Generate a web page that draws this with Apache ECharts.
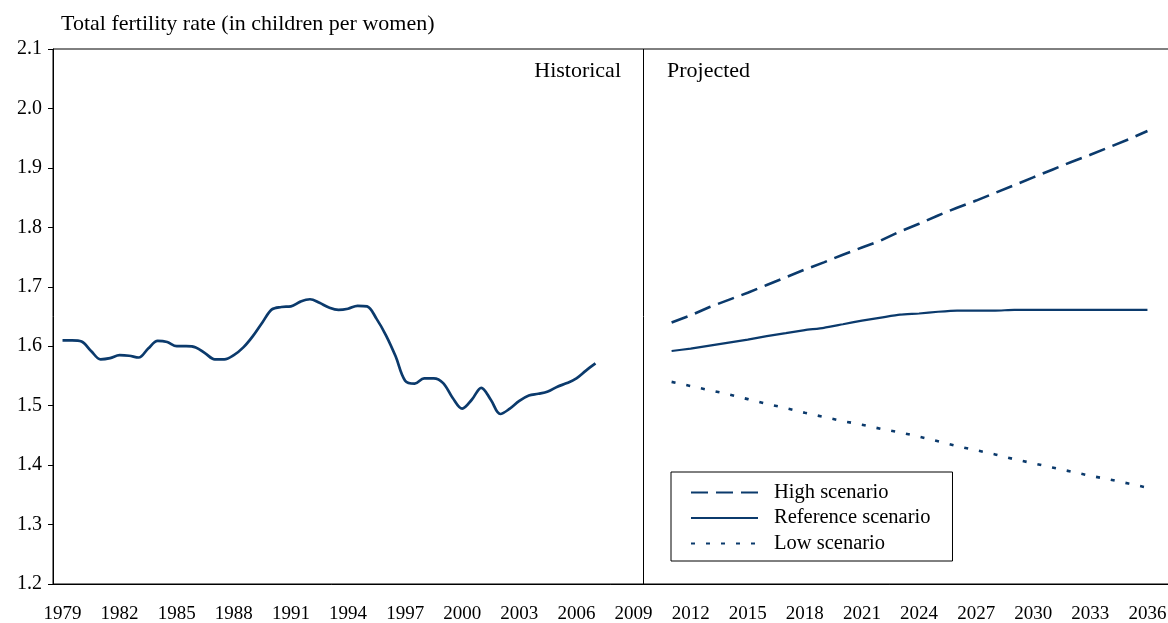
<!DOCTYPE html>
<html>
<head>
<meta charset="utf-8">
<script src="https://cdn.jsdelivr.net/npm/echarts@6/dist/echarts.min.js"></script>
<style>
  html, body { margin: 0; padding: 0; background: #fff; }
  #chart { width: 1168px; height: 623px; }
</style>
</head>
<body>
<div id="chart"></div>
<script>
// axis categories (tick labels every 3 years)
const years = ['1979','1980','1981','1982','1983','1984','1985','1986','1987','1988','1989','1990','1991','1992','1993','1994','1995','1996','1997','1998','1999','2000','2001','2002','2003','2004','2005','2006','2007','2008','2009','2010','2011','2012','2013','2014','2015','2016','2017','2018','2019','2020','2021','2022','2023','2024','2025','2026','2027','2028','2029','2030','2031','2032','2033','2034','2035','2036','2037']

// historical, half-yearly
const histYears = [1979,1979.5,1980,1980.5,1981,1981.5,1982,1982.5,1983,1983.5,1984,1984.5,1985,1985.5,1986,1986.5,1987,1987.5,1988,1988.5,1989,1989.5,1990,1990.5,1991,1991.5,1992,1992.5,1993,1993.5,1994,1994.5,1995,1995.5,1996,1996.5,1997,1997.5,1998,1998.5,1999,1999.5,2000,2000.5,2001,2001.5,2002,2002.5,2003,2003.5,2004,2004.5,2005,2005.5,2006,2006.5,2007]
const histValues = [1.610,1.610,1.608,1.592,1.578,1.580,1.585,1.584,1.581,1.596,1.609,1.607,1.600,1.600,1.598,1.588,1.578,1.578,1.585,1.598,1.617,1.640,1.662,1.666,1.667,1.675,1.679,1.673,1.665,1.661,1.663,1.668,1.667,1.646,1.618,1.583,1.542,1.537,1.546,1.546,1.538,1.513,1.495,1.510,1.530,1.510,1.486,1.495,1.508,1.517,1.520,1.524,1.532,1.538,1.546,1.559,1.571]

// projections
const projYears = [2011,2012,2013,2014,2015,2016,2017,2018,2019,2020,2021,2022,2023,2024,2025,2026,2027,2028,2029,2030,2031,2032,2033,2034,2035,2036]
const highValues = [1.640,1.652,1.666,1.678,1.690,1.703,1.716,1.729,1.741,1.754,1.766,1.778,1.793,1.806,1.820,1.833,1.845,1.858,1.871,1.884,1.897,1.910,1.922,1.935,1.948,1.962]
const refValues = [1.592,1.596,1.601,1.606,1.611,1.617,1.622,1.627,1.631,1.637,1.643,1.648,1.653,1.655,1.658,1.660,1.660,1.660,1.661,1.661,1.661,1.661,1.661,1.661,1.661,1.661]
const lowValues = [1.540,1.533,1.526,1.519,1.511,1.503,1.496,1.488,1.481,1.474,1.468,1.461,1.455,1.448,1.440,1.432,1.425,1.418,1.410,1.403,1.396,1.389,1.382,1.376,1.369,1.362]

const navy = '#0b3a6c'
const font = '"Liberation Serif", "DejaVu Serif", serif'
const pairs = (xs, ys) => xs.map((x, i) => [x, ys[i]])

let chart = echarts.init(document.getElementById('chart'))

let option = {
    animation: false,
    backgroundColor: '#fff',
    textStyle: { fontFamily: font },
    title: {
        text: 'Total fertility rate (in children per women)',
        left: 56,
        top: 8,
        textStyle: { fontFamily: font, fontSize: 22, fontWeight: 'normal', color: '#000' }
    },
    // plot runs past the right edge of the picture (cropped like the original)
    grid: {
        left: 53,
        top: 49,
        bottom: 39,
        width: 1123,
        outerBoundsMode: 'none',
        show: true,
        borderColor: '#000',
        borderWidth: 1
    },
    legend: {
        orient: 'vertical',
        left: 671,
        top: 472,
        padding: [10, 22, 7, 19],
        itemWidth: 67,
        itemHeight: 20,
        itemGap: 4.5,
        borderColor: '#000',
        borderWidth: 1,
        backgroundColor: '#fff',
        // hide the default circle marker, keep only the line sample
        itemStyle: { color: 'rgba(0,0,0,0)', borderWidth: 0, opacity: 0 },
        textStyle: { fontFamily: font, fontSize: 20.5, color: '#000', padding: [0, 0, 0, 11] },
        data: ['High scenario', 'Reference scenario', 'Low scenario']
    },
    xAxis: [
        {
            type: 'category',
            data: years,
            boundaryGap: true,
            axisLine: { lineStyle: { color: '#000', width: 1 } },
            axisTick: { interval: 0, length: 6, lineStyle: { color: '#000' } },
            axisLabel: { interval: 2, margin: 21, fontFamily: font, fontSize: 19, color: '#000' },
            splitLine: { show: false }
        },
        {
            type: 'value',
            min: 1978.5,
            max: 2037.5,
            show: false,
            splitLine: { show: false }
        }
    ],
    yAxis: {
        type: 'value',
        min: 1.2,
        max: 2.1,
        interval: 0.1,
        axisLine: { show: true, lineStyle: { color: '#000', width: 1 } },
        axisTick: { show: true, length: 5, lineStyle: { color: '#000' } },
        axisLabel: { margin: 11, fontFamily: font, fontSize: 20, color: '#000', formatter: v => v.toFixed(1) },
        splitLine: { show: false }
    },
    graphic: [
        { type: 'text', right: 1168 - 621, top: 60,
          style: { text: 'Historical', font: '22px ' + font, fill: '#000' } },
        { type: 'text', left: 667, top: 60,
          style: { text: 'Projected', font: '22px ' + font, fill: '#000' } }
    ],
    series: [
        {
            name: 'Historical',
            type: 'line',
            xAxisIndex: 1,
            symbol: 'none',
            smooth: 0.35,
            lineStyle: { color: navy, width: 2.7 },
            data: pairs(histYears, histValues),
            markLine: {
                silent: true,
                symbol: 'none',
                label: { show: false },
                lineStyle: { color: '#000', width: 1, type: 'solid' },
                data: [{ xAxis: 2009.5 }]
            }
        },
        {
            name: 'High scenario',
            type: 'line',
            xAxisIndex: 1,
            symbol: 'none',
            itemStyle: { color: navy },
            lineStyle: { color: navy, width: 2.6, type: [17, 8] },
            data: pairs(projYears, highValues)
        },
        {
            name: 'Reference scenario',
            type: 'line',
            xAxisIndex: 1,
            symbol: 'none',
            smooth: 0.2,
            itemStyle: { color: navy },
            lineStyle: { color: navy, width: 2.2 },
            data: pairs(projYears, refValues)
        },
        {
            name: 'Low scenario',
            type: 'line',
            xAxisIndex: 1,
            symbol: 'none',
            itemStyle: { color: navy },
            lineStyle: { color: navy, width: 2.6, type: [4, 11] },
            data: pairs(projYears, lowValues)
        }
    ]
}

chart.setOption(option)
</script>
</body>
</html>
